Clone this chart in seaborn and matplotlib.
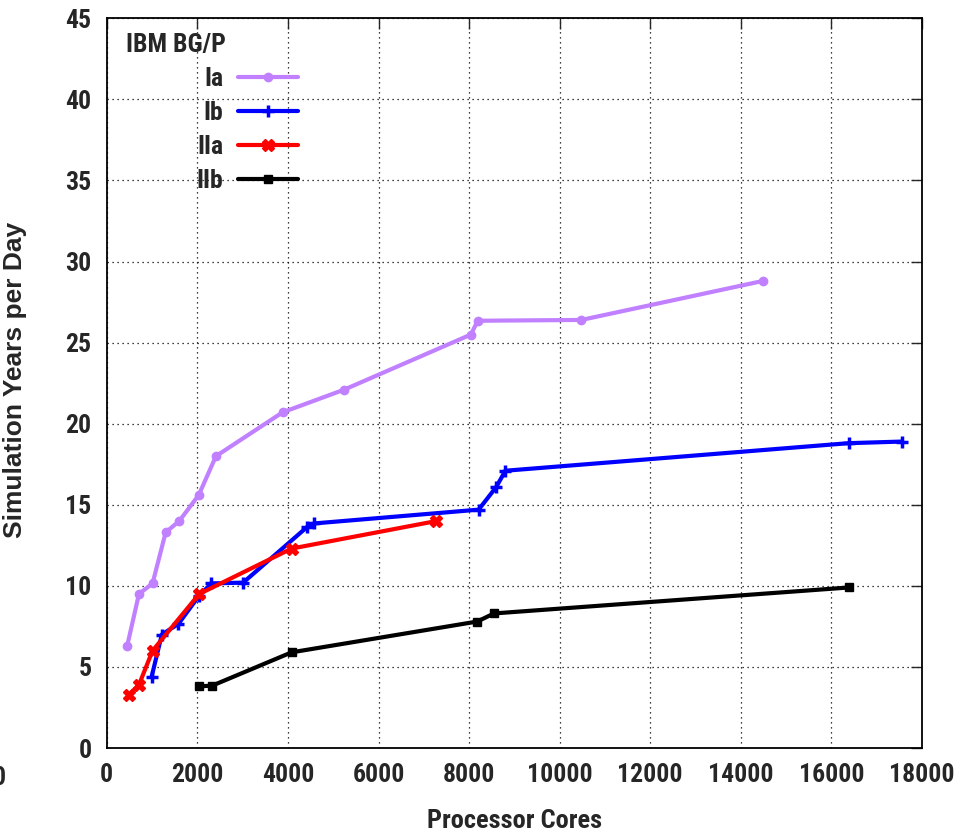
import pandas as pd
import seaborn as sns
import matplotlib.pyplot as plt
from matplotlib import font_manager

# cores vs simulated years per day, IBM BG/P runs
ia_cores = [450, 710, 1010, 1300, 1600, 2030, 2410, 3880, 5240, 8040, 8190, 10480, 14480]
ia_sypd = [6.3, 9.5, 10.15, 13.3, 14.0, 15.6, 18.0, 20.7, 22.1, 25.5, 26.35, 26.4, 28.8]

ib_cores = [990, 1215, 1580, 2040, 2310, 3010, 4410, 4580, 8210, 8600, 8800, 16380, 17560]
ib_sypd = [4.4, 7.0, 7.65, 9.4, 10.15, 10.2, 13.6, 13.85, 14.7, 16.1, 17.1, 18.8, 18.9]

iia_cores = [490, 710, 1010, 2040, 4080, 7280]
iia_sypd = [3.3, 3.9, 6.0, 9.5, 12.3, 14.0]

iib_cores = [2040, 2330, 4080, 8180, 8550, 16380]
iib_sypd = [3.8, 3.85, 5.9, 7.8, 8.3, 9.9]

series = ["Ia", "Ib", "IIa", "IIb"]
colors = ["#c080ff", "#0000ff", "#ff0000", "#000000"]
markers = ["o", "+", "X", "s"]

df = pd.concat([
    pd.DataFrame({"cores": ia_cores, "sypd": ia_sypd, "run": "Ia"}),
    pd.DataFrame({"cores": iib_cores, "sypd": iib_sypd, "run": "IIb"}),
    pd.DataFrame({"cores": ib_cores, "sypd": ib_sypd, "run": "Ib"}),
    pd.DataFrame({"cores": iia_cores, "sypd": iia_sypd, "run": "IIa"}),
])

# a narrow bold face if one is installed, otherwise plain Liberation Sans
names = {f.name for f in font_manager.fontManager.ttflist}
narrow = "Liberation Sans"
for cand in ["Liberation Sans Narrow", "Arial Narrow", "Roboto Condensed", "DejaVu Sans Condensed"]:
    if cand in names:
        narrow = cand
        break

sns.set_style("white")
plt.rcParams["font.family"] = [narrow, "DejaVu Sans"]

fig = plt.figure(figsize=(9.71, 8.34), dpi=100)
ax = fig.add_axes([0.110, 0.1031, 0.8395, 0.8749])

ms = {"Ia": 6, "Ib": 8, "IIa": 8, "IIb": 5.5}
mw = {"Ia": 1, "Ib": 2.5, "IIa": 1, "IIb": 1}
for name, col, mk in zip(series, colors, markers):
    sub = df[df["run"] == name]
    sns.lineplot(data=sub, x="cores", y="sypd", ax=ax, color=col, marker=mk,
                 markersize=ms[name], mec=col, mfc=col, mew=mw[name], lw=3,
                 label=name, sort=False)

ax.set_xlim(0, 18000)
ax.set_ylim(0, 45)
ax.set_xticks(range(0, 18001, 2000))
ax.set_yticks(range(0, 46, 5))
ax.grid(True, color="black", linestyle=(0, (1, 3)), linewidth=0.9)
for s in ax.spines.values():
    s.set_color("black")
    s.set_linewidth(1.3)
ax.tick_params(direction="in", length=8, width=1, top=True, right=True,
               labelsize=18.5, pad=11)
for lab in ax.get_xticklabels() + ax.get_yticklabels():
    lab.set_fontweight("bold")

ax.set_xlabel("Processor Cores", fontsize=19, fontweight="bold")
ax.set_ylabel("Simulation Years per Day", fontsize=19, fontweight="bold",
              family=["Liberation Sans", "DejaVu Sans"])
ax.xaxis.set_label_coords(0.5, -0.083)
ax.yaxis.set_label_coords(-0.098, 0.505)

ax.text(0.023, 0.963, "IBM BG/P", transform=ax.transAxes, ha="left", va="center",
        fontsize=18.5, fontweight="bold")

handles, labels = ax.get_legend_handles_labels()
order = [labels.index(s) for s in series]
leg = ax.legend([handles[i] for i in order], [labels[i] for i in order],
                loc="upper right", bbox_to_anchor=(0.2344, 0.934),
                frameon=False, markerfirst=False, handlelength=2.35,
                handletextpad=0.55, labelspacing=0.4, borderpad=0,
                borderaxespad=0, prop={"size": 18.5, "weight": "bold"})

# stray clipped tick label at the far left edge of the original image
fig.text(6 / 971, 1 - 778 / 834, "0", ha="right", va="center",
         fontsize=18.5, fontweight="bold")

fig.savefig("out.png", dpi=100)
